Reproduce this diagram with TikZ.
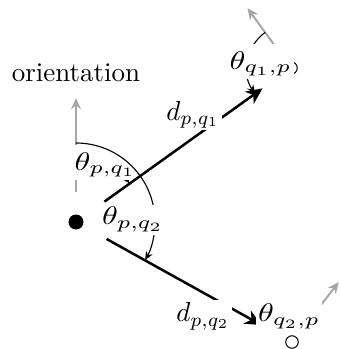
\documentclass[tikz,border=0pt]{standalone}
\usetikzlibrary{arrows.meta}
\newcommand\mylbl[1]{\scalebox{1.28}[1.02]{$#1$}}
\newcommand\mydlbl[1]{\scalebox{1.08}[1.1]{$#1$}}
\begin{document}
\begin{tikzpicture}[x=0.4pt,y=0.4pt,
  agent/.style={circle,inner sep=0pt,minimum size=6pt,fill=black},
  other/.style={circle,inner sep=0pt,minimum size=5pt,draw=black,line width=0.4pt,fill=white},
  dist/.style={line width=1pt,-{Stealth[length=6.5pt,width=6pt,inset=2pt]},shorten <=14pt,shorten >=14pt},
  orient/.style={line width=0.8pt,black!35,-{Stealth[length=4.5pt,width=4pt]}},
  ang/.style={line width=0.45pt,-{Stealth[length=3.5pt,width=3pt]}},
  lab/.style={fill=white,inner sep=1pt,anchor=base},
  tall/.style={text height=9pt}]
\useasboundingbox (0,0) rectangle (340,349);
% agents
\node[agent] (p) at (76,127) {};
\node[other] (q1) at (291,281) {};
\node[other] (q2) at (292,7) {};
% orientations
\coordinate (op) at (76,251);
\path (q1.center) ++(126:74) coordinate (oq1);
\path (q2.center) ++(52:76) coordinate (oq2);
\draw[orient,shorten <=12pt] (p.center) -- (op);
\draw[orient,shorten <=10pt] (q1.center) -- (oq1);
\draw[orient,shorten <=16.4pt] (q2.center) -- (oq2);
% angle at p towards q1
\draw[ang] (p.center) ++(90:26.4pt) arc[start angle=90,end angle=35.7,radius=26.4pt];
\node[lab,tall] (tpq1) at (105.5,179) {\mylbl{\theta_{p,q_1}}};
% angle at p towards q2
\draw[ang] (p.center) ++(90:31.6pt) arc[start angle=90,end angle=-28.9,radius=31.6pt];
\node[lab] (tpq2) at (133,124) {\mylbl{\theta_{p,q_2}}};
% distances
\draw[dist] (p.center) -- (q1.center);
\draw[dist] (p.center) -- (q2.center);
\node[lab] (dpq1) at (193,229) {\mydlbl{d_{p,q_1}}};
\node[lab] (dpq2) at (203,27) {\mydlbl{d_{p,q_2}}};
% angles at q1 and q2
\draw[ang] (q1.center) ++(126:17.6pt) arc[start angle=126,end angle=215.7,radius=17.6pt];
\draw[ang] (q2.center) ++(52:16pt) arc[start angle=52,end angle=151.1,radius=16pt];
\node[lab,tall] (tq1p) at (260.5,280) {\mylbl{\theta_{q_1,p}}};
\node[lab,tall] (tq2p) at (289,27) {\mylbl{\theta_{q_2,p}}};
% heading
\node (orl) at (76,276) {\scalebox{1.08}{orientation}};
\end{tikzpicture}
\end{document}
